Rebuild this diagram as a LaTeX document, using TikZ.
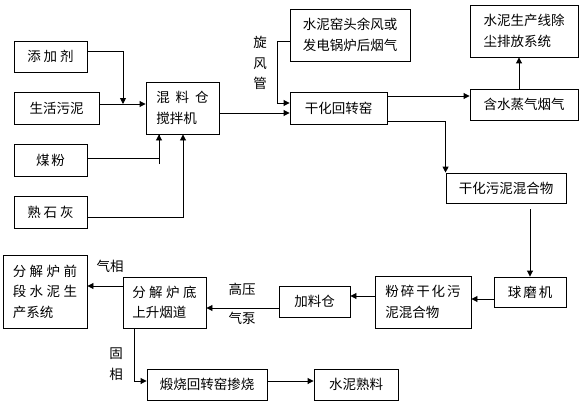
\documentclass[tikz,border=0pt]{standalone}
\usepackage{fontspec}
\newfontfamily\cjkf{Noto Sans CJK SC}
\usetikzlibrary{arrows.meta}
\newcommand{\myg}[1]{\hspace{#1pt}}
\begin{document}
\begin{tikzpicture}[x=1pt,y=-1pt,
  every node/.style={font=\cjkf\fontsize{13.5}{20.5}\selectfont},
  box/.style={draw, line width=0.9pt, inner sep=0pt, align=left},
  lbl/.style={inner sep=0pt, align=center},
  arr/.style={line width=0.9pt, -{Triangle[length=6pt,width=6pt]}},
  ln/.style={line width=0.9pt}]
\useasboundingbox (0,0) rectangle (581,404);
% nodes
\node[box, minimum width=73pt, minimum height=31pt] (tj) at (50.5,56.5) {添\myg{3}加\myg{3}剂};
\node[box, minimum width=85pt, minimum height=32pt] (sh) at (56.5,108) {生活污泥};
\node[box, minimum width=73pt, minimum height=32pt] (mf) at (50.5,160) {煤\myg{2}粉};
\node[box, minimum width=73pt, minimum height=32pt] (sl) at (50.5,212) {熟\myg{3}石\myg{3}灰};
\node[box, minimum width=73pt, minimum height=52pt] (mx) at (182.5,108) {混\myg{6}料\myg{6}仓\\搅拌机};
\node[box, minimum width=120pt, minimum height=52pt] (yf) at (350,35) {水泥窑头余风或\\发电锅炉后烟气};
\node[box, minimum width=97pt, minimum height=32pt] (gk) at (338.5,108) {干化回转窑};
\node[box, minimum width=108pt, minimum height=52pt] (cc) at (524,31) {水泥生产线除\\尘排放系统};
\node[box, minimum width=108pt, minimum height=31pt] (zq) at (524,104.5) {含水蒸气烟气};
\node[box, minimum width=120pt, minimum height=30pt] (gw) at (506,188) {干化污泥混合物};
\node[box, minimum width=72pt, minimum height=30pt] (qm) at (530,292) {球\myg{2}磨\myg{2}机};
\node[box, minimum width=96pt, minimum height=52pt] (fs) at (423,302) {粉\myg{2}碎\myg{2}干\myg{2}化\myg{2}污\\泥混合物};
\node[box, minimum width=71pt, minimum height=31pt] (jl) at (314.5,301.5) {加料仓};
\node[box, minimum width=83pt, minimum height=51pt] (fd) at (164.5,302.5) {分\myg{3.5}解\myg{3.5}炉\myg{3.5}底\\上升烟道};
\node[box, minimum width=84pt, minimum height=73pt] (fq) at (45,291.5) {分\myg{3.5}解\myg{3.5}炉\myg{3.5}前\\段\myg{3.5}水\myg{3.5}泥\myg{3.5}生\\产系统};
\node[box, minimum width=120pt, minimum height=31pt] (ds) at (207,384.5) {煅烧回转窑掺烧};
\node[box, minimum width=84pt, minimum height=31pt] (sn) at (356,384.5) {水泥熟料};
% labels
\node[lbl] (xfg) at (260,63) {旋\\风\\管};
\node[lbl] (qx) at (110,266) {气相};
\node[lbl] (gy) at (242,289) {高压};
\node[lbl] (qb) at (242,318) {气泵};
\node[lbl] (gx) at (116,364) {固\\相};
\coordinate (j1) at (123,104);
% connectors
\draw[arr] ([yshift=5pt]tj.east) -| (j1);
\draw[arr] ([yshift=4pt]sh.east) -- ([yshift=4pt]sh.east -| mx.west);
\draw[ln] ([xshift=-23.5pt,yshift=-4pt]mx.south |- mf.east) -- ([xshift=-23.5pt]mx.south);
\draw[arr] ([yshift=2pt]mf.east) -| ([xshift=-23.5pt]mx.south);
\draw[arr] ([yshift=-5pt]sl.east) -| ([xshift=0.5pt]mx.south);
\draw[arr] ([yshift=-5pt]mx.east) -- ([yshift=-5pt]mx.east -| gk.west);
\draw[arr] ([yshift=-6pt]yf.west) -- ++(-12,0) |- ([yshift=5pt]gk.west);
\draw[arr] ([yshift=12pt]gk.east) -- ([yshift=12pt]gk.east -| zq.west);
\draw[arr] ([xshift=-5pt]zq.north) -- ([xshift=-5pt]zq.north |- cc.south);
\draw[arr] ([yshift=-13pt]gk.east) -| (gw.north west);
\draw[arr] ([yshift=-6pt]qm.north |- gw.south) -- (qm.north);
\draw[arr] ([yshift=-7pt]qm.west) -- ([yshift=-7pt]qm.west -| fs.east);
\draw[arr] ([yshift=6pt]fs.west) -- ([yshift=6pt]fs.west -| jl.east);
\draw[arr] ([yshift=-6.5pt]jl.west) -- ([yshift=-6.5pt]jl.west -| fd.east);
\draw[arr] ([yshift=16.5pt]fd.west) -- ([yshift=16.5pt]fd.west -| fq.east);
\draw[arr] ([xshift=-30.5pt]fd.south) |- ([yshift=3.5pt]ds.west);
\draw[arr] ([yshift=3.5pt]ds.east) -- ([yshift=3.5pt]ds.east -| sn.west);
\end{tikzpicture}
\end{document}
